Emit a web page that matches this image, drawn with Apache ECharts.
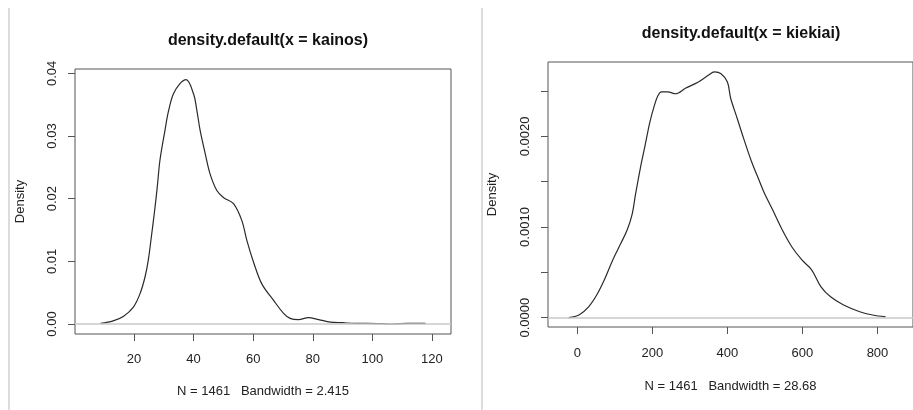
<!DOCTYPE html>
<html>
<head>
<meta charset="utf-8">
<title>density plots</title>
<script src="https://cdn.jsdelivr.net/npm/echarts@6/dist/echarts.min.js"></script>
<style>
  html, body { margin: 0; padding: 0; background: #fff; }
  #chart { width: 913px; height: 410px; }
</style>
</head>
<body>
<div id="chart"></div>
<script>
// Kernel density estimate of "kainos"
const kainosX = [8.8, 13.0, 16.4, 19.8, 22.0, 23.7, 24.8, 25.8, 26.9, 27.8, 28.7, 30.4, 31.5, 33.2, 35.5, 37.5,
  40.0, 41.1, 42.2, 43.9, 45.5, 47.8, 50.0, 53.4, 56.2, 57.9, 60.1, 62.9, 66.8, 70.2, 72.4, 75.2, 78.5,
  82.0, 85.9, 90.0, 94.3, 98.0, 103.3, 107.0, 111.7, 114.5, 117.8];
const kainosY = [0.0001, 0.0005, 0.0012, 0.0027, 0.0048, 0.0075, 0.0102, 0.0138, 0.0180, 0.0218, 0.0261, 0.0309,
  0.0338, 0.0367, 0.0384, 0.0390, 0.0367, 0.0341, 0.0309, 0.0272, 0.0240, 0.0213, 0.0202, 0.0192, 0.0165,
  0.0133, 0.0099, 0.0064, 0.0038, 0.0017, 0.0009, 0.0007, 0.0010, 0.0007, 0.0003, 0.0002, 0.0001, 0.0001,
  0.00005, 0.0, 0.0001, 0.0001, 0.0001];
const kainosXTicks = [20, 40, 60, 80, 100, 120];
const kainosYTicks = [0, 0.01, 0.02, 0.03, 0.04];

// Kernel density estimate of "kiekiai"
const kiekiaiX = [-23, 4.4, 30, 51.6, 73.3, 94.7, 116, 133, 146, 155.5, 168, 180.6, 193.5, 206, 215, 224, 241, 262,
  288, 322.6, 348, 365.7, 383, 400, 408.7, 426, 443, 464.5, 486, 499, 520.5, 546, 572, 598, 624, 649.5,
  675, 709.7, 752.8, 787, 821.7];
const kiekiaiY = [0, 0.00003, 0.00012, 0.00025, 0.00043, 0.00064, 0.00082, 0.00097, 0.00114, 0.00137, 0.00165,
  0.00190, 0.00216, 0.00235, 0.00245, 0.00249, 0.00249, 0.00247, 0.00253, 0.00260, 0.00267, 0.00271, 0.00269,
  0.00260, 0.00242, 0.00220, 0.00198, 0.00172, 0.00150, 0.00137, 0.00119, 0.00097, 0.00078, 0.00064, 0.00053,
  0.00034, 0.00023, 0.00014, 0.000066, 0.00003, 0.00001];
const kiekiaiXTicks = [0, 200, 400, 600, 800];
const kiekiaiYTicks = [0, 0.0005, 0.0010, 0.0015, 0.0020, 0.0025];
const kiekiaiYLabels = [0, 0.0010, 0.0020];

const titles = ['density.default(x = kainos)', 'density.default(x = kiekiai)'];
const notes = ['N = 1461   Bandwidth = 2.415', 'N = 1461   Bandwidth = 28.68'];
const yName = 'Density';

const FONT = '"Liberation Sans", Arial, sans-serif';
const INK = '#555';
const TXT = '#222';

function pairs(xs, ys) { return xs.map((x, i) => [x, ys[i]]); }

function xAxisFor(grid, min, max, ticks, note, margin, gap) {
  return {
    type: 'value', gridIndex: grid, min: min, max: max, position: 'bottom',
    splitLine: { show: false },
    axisLine: { show: false, onZero: false },
    axisTick: { show: true, inside: false, length: 7, customValues: ticks, lineStyle: { color: INK, width: 1 } },
    axisLabel: { customValues: ticks, margin: margin, color: TXT, fontSize: 13, fontFamily: FONT },
    name: note, nameLocation: 'middle', nameGap: gap,
    nameTextStyle: { color: TXT, fontSize: 13, fontFamily: FONT }
  };
}

function yAxisFor(grid, min, max, ticks, labels, digits, gap) {
  return {
    type: 'value', gridIndex: grid, min: min, max: max, position: 'left',
    splitLine: { show: false },
    axisLine: { show: false, onZero: false },
    axisTick: { show: true, inside: false, length: 7, customValues: ticks, lineStyle: { color: INK, width: 1 } },
    axisLabel: {
      customValues: labels, rotate: 90, margin: 16, color: TXT, fontSize: 13, fontFamily: FONT,
      formatter: v => Number(v).toFixed(digits)
    },
    name: yName, nameLocation: 'middle', nameGap: gap,
    nameTextStyle: { color: TXT, fontSize: 13, fontFamily: FONT }
  };
}

function densitySeries(idx, xs, ys) {
  return {
    type: 'line', xAxisIndex: idx, yAxisIndex: idx,
    data: pairs(xs, ys),
    showSymbol: false, smooth: 0.35, silent: true,
    lineStyle: { color: '#2a2a2a', width: 1.2 },
    markLine: {
      silent: true, symbol: 'none', z: 10,
      label: { show: false },
      lineStyle: { color: '#c8c8c8', type: 'solid', width: 1.5 },
      data: [{ yAxis: 0 }]
    }
  };
}

const chart = echarts.init(document.getElementById('chart'), null, { renderer: 'canvas' });
chart.setOption({
  animation: false,
  backgroundColor: '#fff',
  title: [
    { text: titles[0], left: 263, top: 28, textAlign: 'center',
      textStyle: { fontFamily: FONT, fontSize: 16, fontWeight: 'bold', color: '#111' } },
    { text: titles[1], left: 736, top: 21, textAlign: 'center',
      textStyle: { fontFamily: FONT, fontSize: 16, fontWeight: 'bold', color: '#111' } }
  ],
  grid: [
    { left: 75, top: 69, width: 376, height: 265, show: true, borderColor: INK, borderWidth: 1, backgroundColor: 'transparent' },
    { left: 548, top: 62, width: 377, height: 265, show: true, borderColor: INK, borderWidth: 1, backgroundColor: 'transparent' }
  ],
  xAxis: [
    xAxisFor(0, 0.2, 126.4, kainosXTicks, notes[0], 19, 51),
    xAxisFor(1, -78.2, 894.7, kiekiaiXTicks, notes[1], 20, 53)
  ],
  yAxis: [
    yAxisFor(0, -0.0016, 0.0407, kainosYTicks, kainosYTicks, 2, 48),
    yAxisFor(1, -0.0001026, 0.00282, kiekiaiYTicks, kiekiaiYLabels, 4, 49)
  ],
  series: [
    densitySeries(0, kainosX, kainosY),
    densitySeries(1, kiekiaiX, kiekiaiY)
  ],
  graphic: [
    { type: 'line', shape: { x1: 9, y1: 8, x2: 9, y2: 410 }, style: { stroke: '#dcdcdc', lineWidth: 2 }, silent: true },
    { type: 'line', shape: { x1: 482, y1: 8, x2: 482, y2: 410 }, style: { stroke: '#dcdcdc', lineWidth: 2 }, silent: true }
  ]
});
</script>
</body>
</html>
